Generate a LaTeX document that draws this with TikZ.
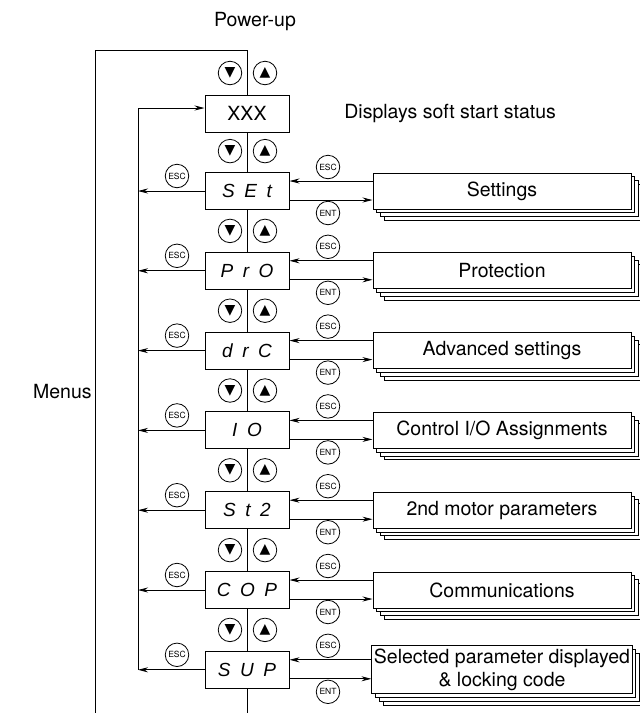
\documentclass[tikz,border=0pt]{standalone}
\usepackage{fontspec}
\setmainfont{TeX Gyre Heros}
\newfontfamily\symfont{DejaVu Sans}
\newfontfamily\segfont[LetterSpace=50]{Liberation Sans}
\usetikzlibrary{arrows.meta,shadows}

\begin{document}
\begin{tikzpicture}[x=1pt,y=-1pt,line width=0.8pt,
    font=\fontsize{19.5}{23}\selectfont,
    >={Stealth[length=10pt,width=5pt]},
    disp/.style={draw,line width=1pt,minimum width=84pt,minimum height=37pt,
      inner sep=0pt,font=\segfont\itshape\fontsize{19}{19}\selectfont},
    menubox/.style={draw,fill=white,line width=1pt,minimum width=258pt,
      minimum height=36pt,inner sep=2pt,align=center,
      copy shadow={shadow xshift=11.4pt,shadow yshift=-11.4pt},
      copy shadow={shadow xshift=7.6pt,shadow yshift=-7.6pt},
      copy shadow={shadow xshift=3.8pt,shadow yshift=-3.8pt}},
    key/.style={draw,circle,minimum size=23.5pt,inner sep=0pt,
      font=\fontsize{8.5}{9}\selectfont},
    arrkey/.style={draw,circle,minimum size=23.5pt,inner sep=0pt,
      font=\symfont\fontsize{14}{14}\selectfont}]
    \useasboundingbox (0,0) rectangle (640,713);

    % power-up entry
    \node (pwr) at (255,22) {Power-up};
    \node[anchor=east,inner sep=0pt] (menus) at (92,392) {Menus};
    \node[disp,font=\fontsize{19.5}{23}\selectfont] (d0) at (247,113.5) {XXX};
    \node[anchor=west,inner sep=0pt] (stat) at (344,113) {Displays soft start status};

    \coordinate (bot) at (95,713);
    \coordinate (corner) at (95,50);
    \coordinate (top) at (247,50);
    \draw (bot) -- (corner) -- (top) -- (d0.north);
    \node[arrkey] (dn0) at (230,73) {▼};
    \node[arrkey] (up0) at (265,73) {▲};

    % menus
    \foreach \code/\txt/\h [count=\i] in {
        SEt/{Settings}/36,
        PrO/{Protection}/36,
        drC/{Advanced settings}/36,
        IO/{Control I/O Assignments}/36,
        St2/{2nd motor parameters}/36,
        COP/{Communications}/36,
        SUP/{Selected parameter displayed\\\& locking code}/48} {
      \pgfmathsetmacro\yy{191+79.8*(\i-1)}
      \pgfmathtruncatemacro\prev{\i-1}
      \node[disp] (d\i) at (247,\yy) {\code};
      \node[menubox,minimum height=\h pt] (m\i) at (502,\yy) {\txt};
      \draw (d\prev.south) -- (d\i.north);
      \node[arrkey] (dn\i) at (230,\yy-39.9) {▼};
      \node[arrkey] (up\i) at (265,\yy-39.9) {▲};
      % back to the status display
      \coordinate (e\i) at (138,\yy);
      \draw[->] (d\i.west) -- (e\i);
      \node[key] (lesc\i) at (177,\yy-15) {ESC};
      % in and out of the sub-menu
      \draw[->] ([yshift=10pt]m\i.west) -- ([yshift=10pt]d\i.east);
      \draw[->] ([yshift=-9pt]d\i.east) -- ([yshift=-9pt]m\i.west);
      \node[key] (resc\i) at (328,\yy-24) {ESC};
      \node[key] (rent\i) at (328,\yy+22) {ENT};
    }

    \coordinate (ret) at (138,108);
    \coordinate (end) at (247,713);
    \draw[->] (e7) -- (ret) -- (ret -| d0.west);
    \draw (d7.south) -- (end);
\end{tikzpicture}
\end{document}
